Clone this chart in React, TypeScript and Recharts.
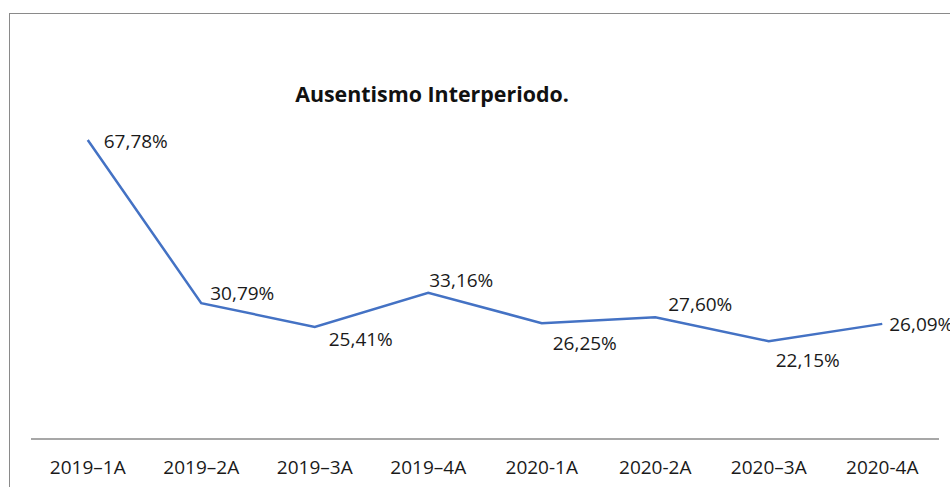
import React from "react";
import { LineChart, Line, XAxis, YAxis, LabelList } from "recharts";

const categories = [
  "2019–1A",
  "2019–2A",
  "2019–3A",
  "2019–4A",
  "2020-1A",
  "2020-2A",
  "2020–3A",
  "2020-4A",
];

const ausentismo = [67.78, 30.79, 25.41, 33.16, 26.25, 27.6, 22.15, 26.09];

const chartData = categories.map((name, i) => ({ name, value: ausentismo[i] }));

// where each data label sits relative to its point
const labelOffsets = [
  { dx: 16, dy: 1 },
  { dx: 9, dy: -10 },
  { dx: 14, dy: 12 },
  { dx: 1, dy: -13 },
  { dx: 11, dy: 20 },
  { dx: 13, dy: -13 },
  { dx: 7, dy: 19 },
  { dx: 7, dy: 0 },
];

const FONT = "'Open Sans', sans-serif";

const fmt = (v: number) => v.toFixed(2).replace(".", ",") + "%";

const ValueLabel = (props: any) => {
  const { x, y, index, value } = props;
  const off = labelOffsets[index] || { dx: 0, dy: 0 };
  return (
    <text
      x={x + off.dx}
      y={y + off.dy}
      textAnchor="start"
      dominantBaseline="central"
      fontFamily={FONT}
      fontSize={19}
      fill="#1a1a1a"
    >
      {fmt(value)}
    </text>
  );
};

export default function App() {
  return (
    <div
      style={{
        position: "absolute",
        left: 0,
        top: 0,
        width: 950,
        height: 487,
        background: "#fff",
        overflow: "hidden",
      }}
    >
      <div
        style={{
          position: "absolute",
          left: 9,
          top: 13,
          width: 960,
          height: 500,
          borderTop: "1.5px solid #8a8a8a",
          borderLeft: "1.5px solid #8a8a8a",
        }}
      />
      <div
        style={{
          position: "absolute",
          left: 0,
          width: 864,
          top: 80,
          textAlign: "center",
          fontFamily: FONT,
          fontWeight: 700,
          fontSize: 21.4,
          lineHeight: "28px",
          color: "#111",
        }}
      >
        Ausentismo Interperiodo.
      </div>
      <div style={{ position: "absolute", left: 0, top: 0 }}>
        <LineChart
          width={950}
          height={487}
          data={chartData}
          margin={{ top: 86, right: 11, bottom: 0, left: 31 }}
        >
          <XAxis
            dataKey="name"
            height={48}
            padding={{ left: 56.75, right: 56.75 }}
            axisLine={{ stroke: "#8a8a8a", strokeWidth: 1.5 }}
            tickLine={false}
            tickSize={0}
            tickMargin={22}
            interval={0}
            tick={{ fill: "#1a1a1a", fontSize: 19, fontFamily: FONT }}
          />
          <YAxis hide domain={[0, 80]} />
          <Line
            type="linear"
            dataKey="value"
            stroke="#4472C4"
            strokeWidth={2.5}
            dot={false}
            isAnimationActive={false}
          >
            <LabelList dataKey="value" content={<ValueLabel />} />
          </Line>
        </LineChart>
      </div>
    </div>
  );
}
